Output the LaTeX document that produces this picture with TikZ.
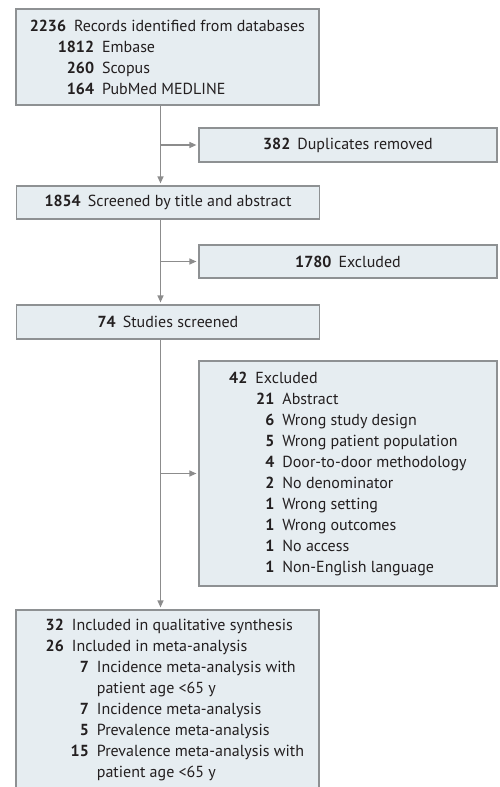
\documentclass[tikz,border=0pt]{standalone}
\usepackage{fontspec}
\setmainfont{PT Sans}
\usetikzlibrary{arrows.meta}

\definecolor{boxfill}{HTML}{E6EDF1}
\definecolor{boxline}{HTML}{8E9193}
\definecolor{linegray}{HTML}{8C8C8C}
\definecolor{txt}{HTML}{231F20}
\newcommand{\row}[3]{\makebox[#1][r]{\textbf{#2}}\hspace{8pt}#3}

\begin{document}
\begin{tikzpicture}
[x=1pt,y=-1pt,
 every node/.style={draw=boxline,fill=boxfill,line width=1.2pt,inner sep=0pt,align=left,text=txt,font=\fontsize{16}{21}\selectfont},
 main/.style={minimum width=303pt},
 side/.style={minimum width=298pt},
 arr/.style={draw=linegray,line width=1.2pt,shorten >=2pt,-{Triangle[length=7pt,width=6pt]}}]
\useasboundingbox (0,0) rectangle (500,787);
\node[main,minimum height=96pt]  (rec) at (167.5,57)  {\row{36pt}{2236}{Records identified from databases}\\
                                                         \row{64pt}{1812}{Embase}\\
                                                         \row{64pt}{260}{Scopus}\\
                                                         \row{64pt}{164}{PubMed MEDLINE}};
\node[side,minimum height=34pt]  (dup) at (348,145)   {\textbf{382}\hspace{7pt}Duplicates removed};
\node[main,minimum height=33pt]  (scr) at (168,202.5) {\textbf{1854}\hspace{7pt}Screened by title and abstract};
\node[side,minimum height=33pt]  (exc) at (348,261.5) {\textbf{1780}\hspace{7pt}Excluded};
\node[main,minimum height=34pt]  (stu) at (168,322)   {\textbf{74}\hspace{7pt}Studies screened};
\node[side,minimum height=225pt] (rsn) at (348,473.5) {\row{18pt}{42}{Excluded}\\
                                                         \row{45pt}{21}{Abstract}\\
                                                         \row{45pt}{6}{Wrong study design}\\
                                                         \row{45pt}{5}{Wrong patient population}\\
                                                         \row{45pt}{4}{Door-to-door methodology}\\
                                                         \row{45pt}{2}{No denominator}\\
                                                         \row{45pt}{1}{Wrong setting}\\
                                                         \row{45pt}{1}{Wrong outcomes}\\
                                                         \row{45pt}{1}{No access}\\
                                                         \row{45pt}{1}{Non-English language}};
\node[main,minimum height=180pt] (inc) at (167.5,700) {\row{33pt}{32}{Included in qualitative synthesis}\\
                                                         \row{33pt}{26}{Included in meta-analysis}\\
                                                         \row{58pt}{7}{Incidence meta-analysis with}\\
                                                         \hspace{66pt}patient age <65 y\\
                                                         \row{58pt}{7}{Incidence meta-analysis}\\
                                                         \row{58pt}{5}{Prevalence meta-analysis}\\
                                                         \row{58pt}{15}{Prevalence meta-analysis with}\\
                                                         \hspace{66pt}patient age <65 y};
\coordinate (tr) at (160.5,0);
\draw[arr] (rec.south -| tr) -- (scr.north -| tr);
\draw[arr] (scr.south -| tr) -- (stu.north -| tr);
\draw[arr] (stu.south -| tr) -- (inc.north -| tr);
\draw[arr] (dup.west -| tr)  -- (dup.west);
\draw[arr] (exc.west -| tr)  -- (exc.west);
\draw[arr] (rsn.west -| tr)  -- (rsn.west);
\end{tikzpicture}
\end{document}
